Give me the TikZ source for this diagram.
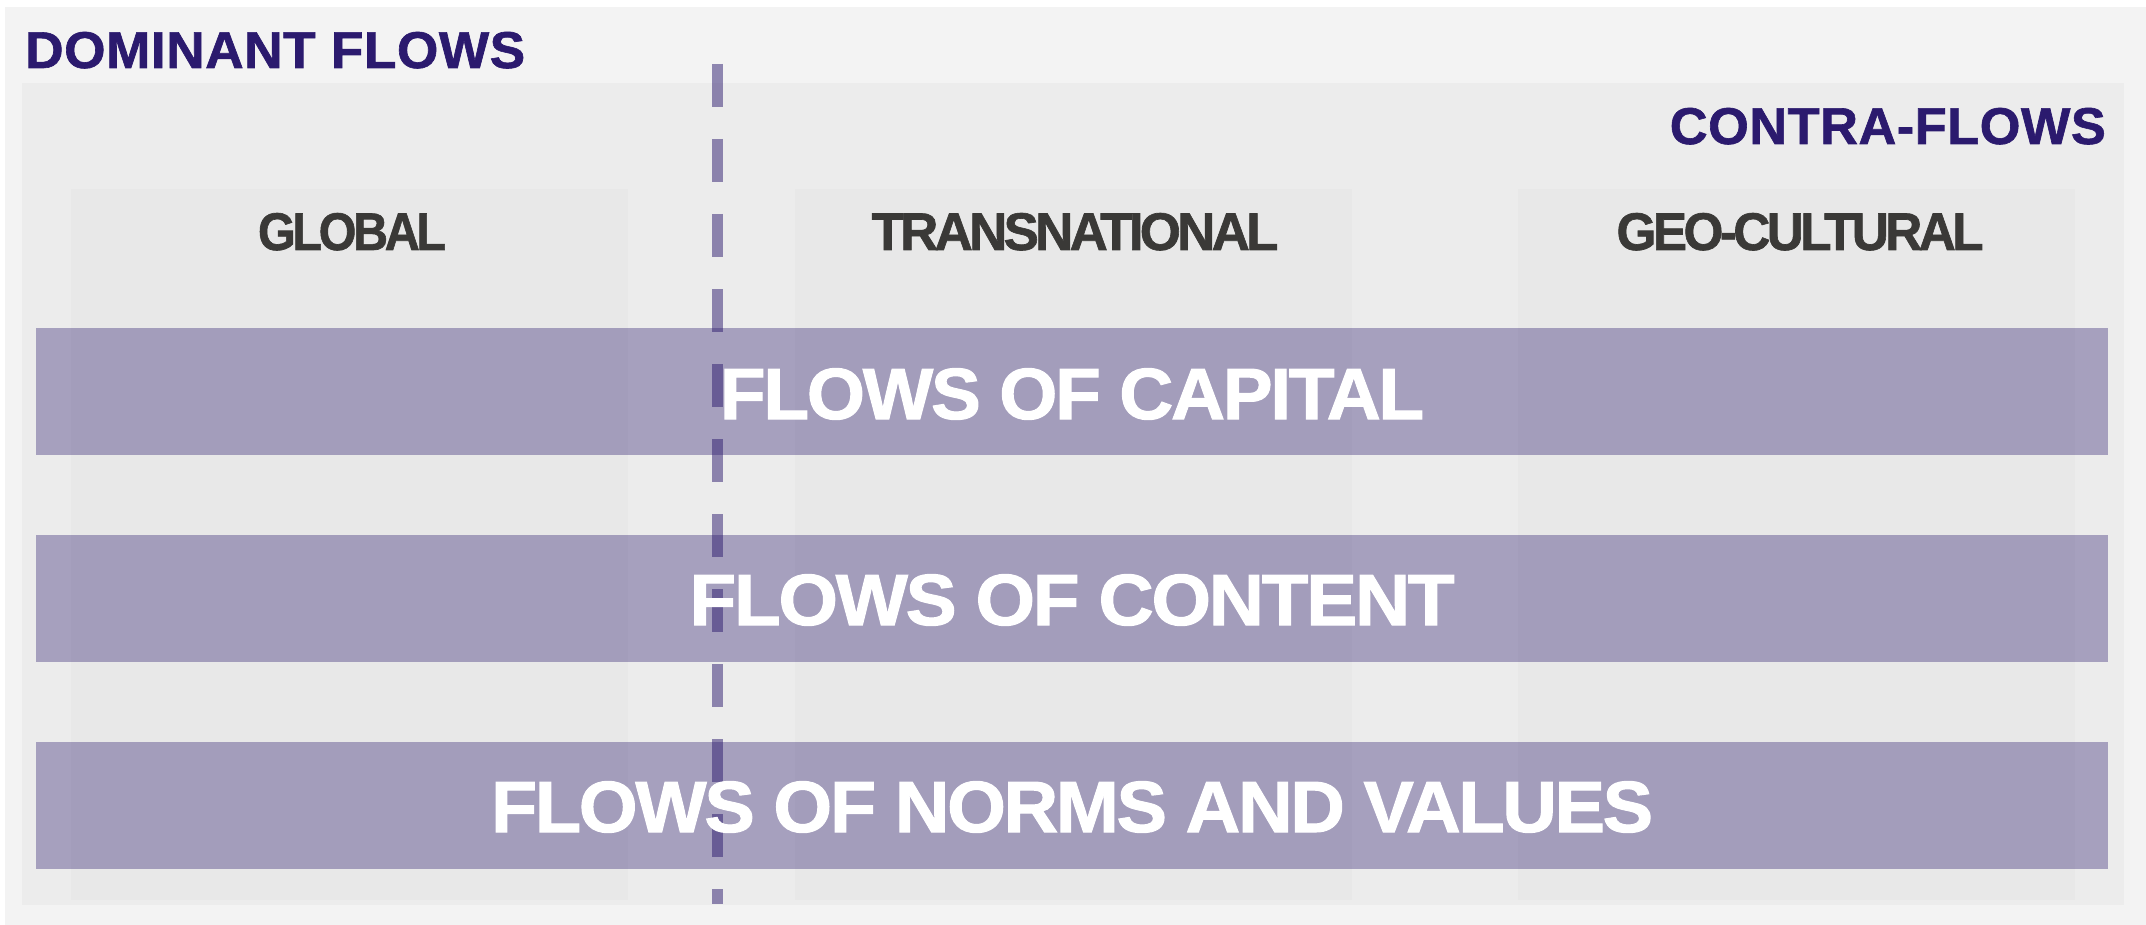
\documentclass[tikz,border=0pt]{standalone}
\usepackage{fontspec}
\setmainfont{Liberation Sans}
\newfontfamily\titlefont{Liberation Sans Bold}[FakeBold=1.2, LetterSpace=1]
\newfontfamily\headfont{Liberation Sans Bold}[FakeBold=1.2, LetterSpace=-7]
\newfontfamily\bandfont{Liberation Sans Bold}[FakeBold=1.4, LetterSpace=-3]
\usepackage{graphicx}
\definecolor{deep}{HTML}{2B1A6E}
\definecolor{outerbg}{HTML}{F3F3F3}
\definecolor{innerbg}{HTML}{ECECEC}
\definecolor{colbg}{HTML}{E8E8E8}
\definecolor{headgray}{HTML}{3A3937}
\newcommand\fitw[2]{\resizebox{#1}{\height}{#2}}
\tikzset{
  panel/.style={fill=#1, draw=none, inner sep=0pt, outer sep=0pt, anchor=north west},
  band/.style={fill=deep, fill opacity=0.36, draw=none, inner sep=0pt, outer sep=0pt, anchor=north west,
    minimum width=2072pt, minimum height=127pt},
  column/.style={panel=colbg, minimum width=557pt, minimum height=711pt},
  titletext/.style={inner sep=0pt, font=\titlefont\fontsize{51.7}{60}\selectfont, text=deep},
  header/.style={inner sep=0pt, font=\headfont\fontsize{53}{60}\selectfont, text=headgray, anchor=base},
  bandtext/.style={inner sep=0pt, font=\bandfont\fontsize{72.6}{80}\selectfont, text=white, anchor=base},
  divider/.style={draw=deep, draw opacity=0.5, line width=11pt, dash pattern=on 43pt off 32pt},
}
\begin{document}
\begin{tikzpicture}[x=1pt, y=-1pt]
  \useasboundingbox[fill=white] (0,0) rectangle (2146,925);
  % background panels
  \node[panel=outerbg, minimum width=2141pt, minimum height=918pt] (outer) at (5,7) {};
  \node[panel=innerbg, minimum width=2102pt, minimum height=822pt] (inner) at (22,83) {};
  % columns
  \node[column] (colA) at (71,189) {};
  \node[column] (colB) at (795,189) {};
  \node[column] (colC) at (1518,189) {};
  % titles
  \node[titletext, anchor=base west] (dom) at (25,68) {\fitw{500pt}{DOMINANT FLOWS}};
  \node[titletext, anchor=base east] (contra) at (2106,144) {\fitw{436pt}{CONTRA-FLOWS}};
  % column headers
  \node[header] (hA) at (352,250) {\fitw{188pt}{GLOBAL}};
  \node[header] (hB) at (1075,250) {\fitw{407pt}{TRANSNATIONAL}};
  \node[header] (hC) at (1800,250) {\fitw{367pt}{GEO-CULTURAL}};
  % bands
  \node[band] (b1) at (36,328) {};
  \node[band] (b2) at (36,535) {};
  \node[band] (b3) at (36,742) {};
  % divider
  \coordinate (dtop) at (717,64);
  \coordinate (dbot) at (717,904);
  \draw[divider] (dtop) -- (dbot);
  % band labels
  \node[bandtext] (l1) at (1072,419) {\fitw{704pt}{FLOWS OF CAPITAL}};
  \node[bandtext] (l2) at (1072,625) {\fitw{765pt}{FLOWS OF CONTENT}};
  \node[bandtext] (l3) at (1072,832) {\fitw{1162pt}{FLOWS OF NORMS AND VALUES}};
\end{tikzpicture}
\end{document}
